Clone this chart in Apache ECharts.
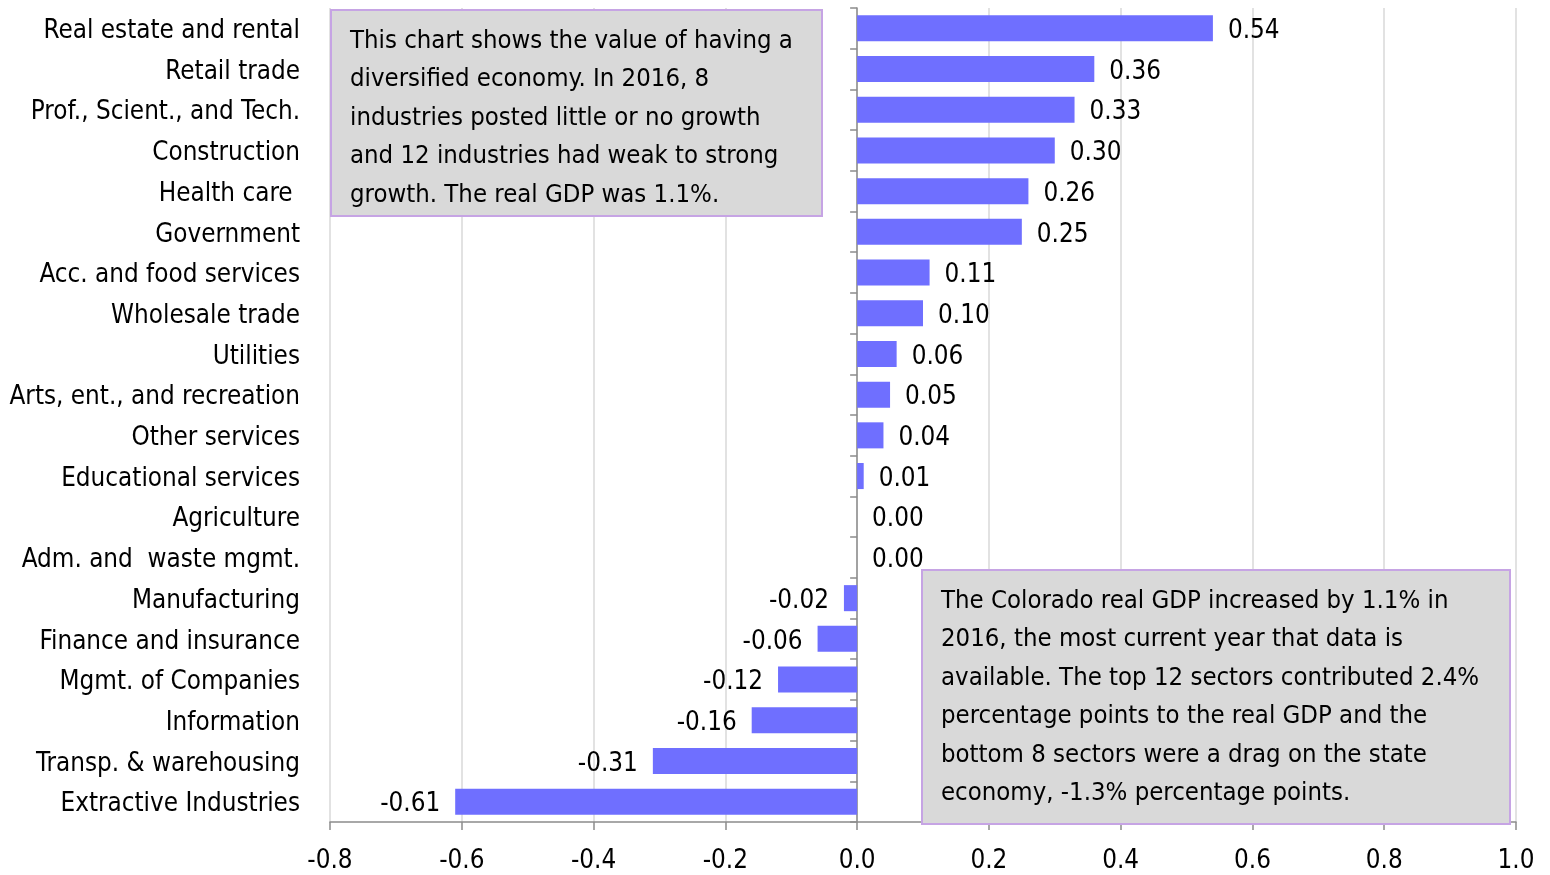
<!DOCTYPE html>
<html>
<head>
<meta charset="utf-8">
<script src="https://cdn.jsdelivr.net/npm/echarts@6/dist/echarts.min.js"></script>
<style>
  html, body { margin: 0; padding: 0; background: #fff; }
  #chart { width: 1550px; height: 875px; }
</style>
</head>
<body>
<div id="chart"></div>
<script>
// Industry contributions to Colorado real GDP growth, 2016 (percentage points)
const industries = [
  'Real estate and rental', 'Retail trade', 'Prof., Scient., and Tech.', 'Construction',
  'Health care ', 'Government', 'Acc. and food services', 'Wholesale trade', 'Utilities',
  'Arts, ent., and recreation', 'Other services', 'Educational services', 'Agriculture',
  'Adm. and  waste mgmt.', 'Manufacturing', 'Finance and insurance', 'Mgmt. of Companies',
  'Information', 'Transp. & warehousing', 'Extractive Industries'
];
const contributions = [
  0.54, 0.36, 0.33, 0.30, 0.26, 0.25, 0.11, 0.10, 0.06, 0.05,
  0.04, 0.01, 0.00, 0.00, -0.02, -0.06, -0.12, -0.16, -0.31, -0.61
];
const xTicks = { min: -0.8, max: 1.0, interval: 0.2 };

const noteTop = [
  'This chart shows the value of having a',
  'diversified economy. In 2016, 8',
  'industries posted little or no growth',
  'and 12 industries had weak to strong',
  'growth. The real GDP was 1.1%.'
];
const noteBottom = [
  'The Colorado real GDP increased by 1.1% in',
  '2016, the most current year that data is',
  'available. The top 12 sectors contributed 2.4%',
  'percentage points to the real GDP and the',
  'bottom 8 sectors were a drag on the state',
  'economy, -1.3% percentage points.'
];

const FONT = '"DejaVu Sans Condensed", "Liberation Sans", sans-serif';
const FS = 25.8;
const NOTE_FS = 25.5;

function noteBox(x, y, w, h, lines) {
  return {
    type: 'group', left: x, top: y, z: 100,
    children: [
      { type: 'rect', z: 100, shape: { x: 0, y: 0, width: w, height: h },
        style: { fill: '#d9d9d9', stroke: '#c6a4e4', lineWidth: 2 } },
      { type: 'text', z: 101, x: 19, y: 12,
        style: { text: lines.join('\n'), font: NOTE_FS + 'px ' + FONT, fill: '#000',
                 lineHeight: 38.5, textVerticalAlign: 'top' } }
    ]
  };
}

const chart = echarts.init(document.getElementById('chart'));
chart.setOption({
  animation: false,
  backgroundColor: '#fff',
  grid: { left: 330, right: 34, top: 8, bottom: 53, containLabel: false, outerBoundsMode: 'none' },
  xAxis: {
    type: 'value', min: xTicks.min, max: xTicks.max, interval: xTicks.interval,
    axisLine: { show: true, onZero: false, lineStyle: { color: '#8c8c8c', width: 1.5 } },
    axisTick: { show: true, length: 8, lineStyle: { color: '#8c8c8c', width: 1.5 } },
    splitLine: { show: true, lineStyle: { color: '#d9d9d9', width: 1.5 } },
    axisLabel: { margin: 26, fontFamily: FONT, fontSize: FS, color: '#000',
                 formatter: v => v.toFixed(1) }
  },
  yAxis: [
    {
      type: 'category', data: industries, inverse: true,
      axisLine: { show: true, onZero: true, lineStyle: { color: '#8c8c8c', width: 1.5 } },
      axisTick: { show: true, length: 7, lineStyle: { color: '#8c8c8c', width: 1.5 } },
      axisLabel: { show: false },
      splitLine: { show: false }
    },
    {
      type: 'category', data: industries, inverse: true, position: 'left',
      axisLine: { show: false }, axisTick: { show: false },
      axisLabel: { margin: 30, fontFamily: FONT, fontSize: FS, color: '#000',
                   verticalAlign: 'top', lineHeight: 6 },
      splitLine: { show: false }
    }
  ],
  series: [{
    type: 'bar', yAxisIndex: 0,
    // negative values carry their labels on the left side of the bar
    data: contributions.map(v => v < 0
      ? { value: v, label: { position: 'left' } }
      : { value: v }),
    barCategoryGap: '36%',
    itemStyle: { color: '#6f6fff' },
    label: {
      show: true, position: 'right', distance: 15, offset: [0, 3],
      fontFamily: FONT, fontSize: FS, color: '#000',
      formatter: p => p.value.toFixed(2)
    }
  }],
  graphic: [
    noteBox(330, 9, 491, 206, noteTop),
    noteBox(921, 569, 588, 254, noteBottom)
  ]
});
</script>
</body>
</html>
